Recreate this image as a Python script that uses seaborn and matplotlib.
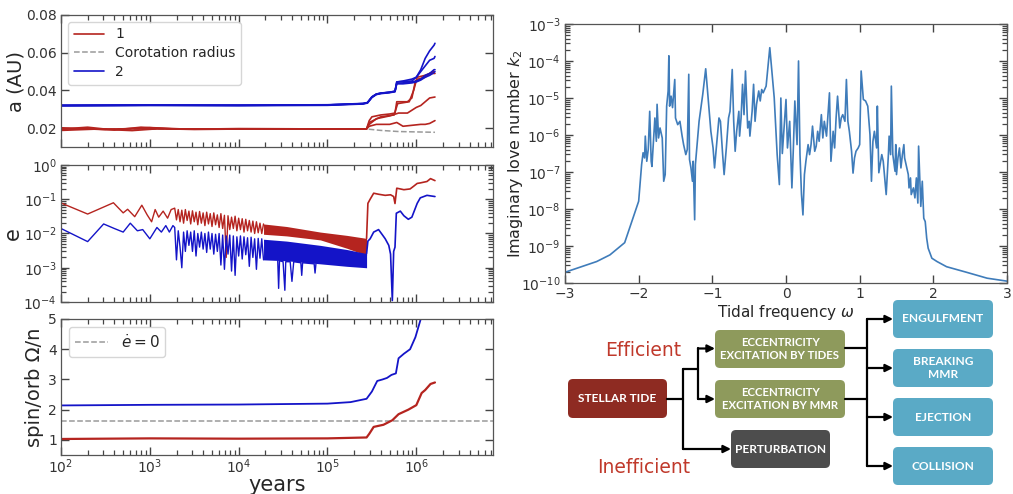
import numpy as np
import matplotlib.pyplot as plt
import seaborn as sns
from matplotlib.patches import FancyBboxPatch
from matplotlib.lines import Line2D
from matplotlib.ticker import LogLocator, NullFormatter


# ------------------ data : semi-major axis (log10 years, AU) ------------------
red_a1_t = [2.0, 2.3, 2.6, 2.9, 3.3, 4.0, 5.0, 5.44, 5.47, 5.5, 5.6, 5.7, 5.76, 5.78, 5.9, 5.95, 5.99, 6.02, 6.1, 6.15, 6.21]
red_a1 = [0.0195, 0.0205, 0.019, 0.0205, 0.0195, 0.0197, 0.0196, 0.0196, 0.024, 0.026, 0.027, 0.0275, 0.028, 0.034, 0.034, 0.036, 0.045, 0.046, 0.047, 0.049, 0.049]
red_a2_t = [2.0, 2.4, 2.8, 3.1, 3.5, 4.2, 5.0, 5.44, 5.47, 5.55, 5.7, 5.8, 5.9, 6.0, 6.05, 6.1, 6.15, 6.21]
red_a2 = [0.0188, 0.0195, 0.0187, 0.0197, 0.0193, 0.0196, 0.0195, 0.0196, 0.022, 0.025, 0.0265, 0.028, 0.028, 0.031, 0.032, 0.034, 0.036, 0.0365]
red_a3_t = [2.0, 2.5, 3.0, 3.4, 4.0, 5.0, 5.44, 5.47, 5.55, 5.7, 5.78, 5.85, 5.95, 6.05, 6.1, 6.15, 6.21]
red_a3 = [0.0202, 0.0192, 0.0203, 0.0195, 0.0197, 0.0196, 0.0196, 0.021, 0.022, 0.022, 0.023, 0.021, 0.0215, 0.022, 0.022, 0.0225, 0.024]
red_a4_t = [2.0, 3.0, 4.0, 5.0, 5.44, 5.47, 5.6, 5.75, 5.79, 5.92, 5.97, 6.01, 6.1, 6.2]
red_a4 = [0.0195, 0.0196, 0.0196, 0.0196, 0.0196, 0.023, 0.026, 0.027, 0.033, 0.034, 0.04, 0.047, 0.048, 0.05]

blue_a_t = [2.0, 3.0, 4.0, 5.0, 5.4, 5.45, 5.5, 5.55, 5.6, 5.7, 5.76, 5.78, 5.85, 5.95, 6.0, 6.05, 6.1, 6.15, 6.2, 6.21]
blue_a1 = [0.032, 0.0322, 0.0321, 0.0323, 0.033, 0.0335, 0.0365, 0.038, 0.0385, 0.039, 0.0395, 0.0445, 0.0447, 0.045, 0.047, 0.051, 0.057, 0.061, 0.064, 0.065]
blue_a2 = [0.032, 0.0322, 0.0321, 0.0323, 0.033, 0.0335, 0.0365, 0.038, 0.0385, 0.039, 0.0395, 0.0445, 0.045, 0.046, 0.047, 0.05, 0.053, 0.056, 0.057, 0.058]
blue_a3 = [0.0318, 0.032, 0.0319, 0.0321, 0.0328, 0.0333, 0.0362, 0.0378, 0.0383, 0.0388, 0.0393, 0.0438, 0.044, 0.0445, 0.045, 0.046, 0.048, 0.049, 0.051, 0.051]
blue_a4 = [0.0322, 0.0323, 0.0322, 0.0324, 0.0331, 0.0336, 0.0366, 0.0381, 0.0386, 0.0391, 0.0396, 0.0435, 0.0435, 0.044, 0.0445, 0.0455, 0.047, 0.048, 0.0495, 0.05]

corot_t = [2.0, 5.45, 5.6, 5.8, 6.0, 6.21]
corot_a = [0.0195, 0.0195, 0.0188, 0.0182, 0.018, 0.0178]

# ------------------ data : eccentricity ------------------
red_e_t = [2.0, 2.3, 2.59, 2.7, 2.75, 2.83, 2.91, 2.97, 3.02, 3.06, 3.1, 3.15, 3.2, 3.24,
           3.28, 3.30, 3.32, 3.34, 3.36, 3.38, 3.40, 3.42, 3.44, 3.46, 3.48, 3.50, 3.52, 3.54,
           3.56, 3.58, 3.60, 3.62, 3.64, 3.66, 3.68, 3.70, 3.72, 3.74, 3.76, 3.78, 3.80, 3.82,
           3.84, 3.86, 3.88, 3.90, 3.92, 3.94, 3.96, 3.98, 4.00, 4.02, 4.04, 4.06, 4.08, 4.10,
           4.12, 4.14, 4.16, 4.18, 4.20, 4.22, 4.24, 4.26, 4.28]
red_e = [0.078, 0.037, 0.079, 0.04, 0.051, 0.031, 0.067, 0.035, 0.022, 0.05, 0.03, 0.045, 0.028, 0.05,
         0.055, 0.025, 0.05, 0.022, 0.048, 0.02, 0.05, 0.024, 0.045, 0.019, 0.046, 0.022, 0.042, 0.018,
         0.044, 0.02, 0.04, 0.017, 0.042, 0.019, 0.038, 0.016, 0.04, 0.018, 0.035, 0.015, 0.038, 0.014,
         0.034, 0.002, 0.033, 0.013, 0.03, 0.014, 0.032, 0.012, 0.028, 0.013, 0.027, 0.011, 0.026, 0.012,
         0.024, 0.011, 0.023, 0.01, 0.022, 0.0105, 0.02, 0.01, 0.019]
red_band_t = [4.28, 4.54, 4.92, 5.22, 5.44]
red_band_hi = [0.019, 0.016, 0.011, 0.0088, 0.0072]
red_band_lo = [0.0095, 0.0085, 0.0065, 0.0037, 0.0023]
red_late_t = [5.44, 5.455, 5.48, 5.52, 5.575, 5.65, 5.71, 5.745, 5.76, 5.78, 5.82, 5.86, 5.93, 5.97, 6.01, 6.045, 6.12, 6.16, 6.21]
red_late_e = [0.0072, 0.076, 0.1, 0.15, 0.14, 0.13, 0.135, 0.12, 0.075, 0.21, 0.2, 0.19, 0.2, 0.24, 0.29, 0.3, 0.33, 0.4, 0.35]

blue_e_t = [2.0, 2.3, 2.48, 2.6, 2.7, 2.78, 2.86, 2.92, 3.0, 3.08, 3.13, 3.18, 3.22, 3.26, 3.28,
            3.30, 3.32, 3.34, 3.36, 3.38, 3.40, 3.42, 3.44, 3.46, 3.48, 3.50, 3.52, 3.54, 3.56,
            3.58, 3.60, 3.62, 3.64, 3.66, 3.68, 3.70, 3.72, 3.74, 3.76, 3.78, 3.80, 3.82, 3.84,
            3.86, 3.88, 3.90, 3.92, 3.94, 3.96, 3.98, 4.00, 4.02, 4.04, 4.06, 4.08, 4.10, 4.12,
            4.14, 4.16, 4.18, 4.20, 4.22, 4.24, 4.26, 4.28]
blue_e = [0.014, 0.0058, 0.019, 0.014, 0.011, 0.02, 0.012, 0.013, 0.007, 0.015, 0.011, 0.017, 0.011, 0.017, 0.015,
          0.0017, 0.012, 0.004, 0.001, 0.011, 0.003, 0.012, 0.0045, 0.011, 0.003, 0.012, 0.0022, 0.01, 0.004,
          0.011, 0.0035, 0.01, 0.0028, 0.011, 0.0035, 0.01, 0.0025, 0.0095, 0.003, 0.01, 0.0012, 0.009, 0.0009,
          0.0085, 0.0025, 0.009, 0.0008, 0.0085, 0.0006, 0.008, 0.0022, 0.0085, 0.0018, 0.008, 0.0024, 0.0075, 0.0011,
          0.0078, 0.002, 0.007, 0.0009, 0.0072, 0.0019, 0.007, 0.0017]
blue_band_t = [4.28, 4.54, 4.92, 5.22, 5.44]
blue_band_hi = [0.0068, 0.006, 0.0045, 0.0034, 0.0026]
blue_band_lo = [0.0017, 0.0016, 0.0013, 0.0011, 0.001]
blue_spike_t = [4.44, 4.45, 4.46, 4.5, 4.52, 4.53, 4.58, 4.6, 4.62, 4.7, 4.71, 4.72, 4.85, 4.86, 4.87]
blue_spike_e = [0.0016, 0.00025, 0.0016, 0.0015, 0.00022, 0.0015, 0.0015, 0.0004, 0.0015, 0.0014, 0.0006, 0.0014, 0.0013, 0.0007, 0.0013]
blue_late_t = [5.44, 5.455, 5.48, 5.52, 5.575, 5.62, 5.65, 5.69, 5.71, 5.73, 5.745, 5.76, 5.775, 5.82, 5.86, 5.91, 5.95, 6.01, 6.045, 6.12, 6.21]
blue_late_e = [0.0026, 0.006, 0.007, 0.011, 0.013, 0.009, 0.007, 0.0045, 0.0025, 0.00011, 0.003, 0.004, 0.039, 0.045, 0.033, 0.026, 0.03, 0.076, 0.11, 0.13, 0.12]

# ------------------ data : spin / orbit ------------------
spin_blue_t = [2.0, 3.0, 4.0, 5.0, 5.26, 5.44, 5.5, 5.56, 5.62, 5.67, 5.72, 5.77, 5.8, 5.86, 5.93, 5.99, 6.05, 6.08]
spin_blue = [2.14, 2.16, 2.17, 2.2, 2.25, 2.36, 2.6, 2.95, 3.0, 3.05, 3.15, 3.2, 3.7, 3.85, 4.0, 4.4, 5.0, 5.4]
spin_red_t = [2.0, 3.0, 4.0, 5.0, 5.44, 5.47, 5.52, 5.63, 5.73, 5.8, 5.91, 6.0, 6.06, 6.1, 6.16, 6.21]
spin_red = [1.03, 1.05, 1.04, 1.05, 1.08, 1.2, 1.43, 1.5, 1.65, 1.85, 2.0, 2.15, 2.55, 2.65, 2.85, 2.9]
edot_zero = 1.63

# ------------------ data : love number spectrum (omega, log10 Im k2) ------------------
omega = [-3.0, -2.57, -2.39, -2.19, -2.0, -1.96, -1.94, -1.92, -1.91, -1.89, -1.87, -1.85, -1.83, -1.82,
         -1.78, -1.76, -1.75, -1.73, -1.71, -1.68, -1.66, -1.64, -1.62, -1.6, -1.59, -1.58, -1.56, -1.54,
         -1.51, -1.5, -1.47, -1.44, -1.41, -1.39, -1.36, -1.34, -1.32, -1.31, -1.29, -1.27, -1.26, -1.24,
         -1.23, -1.18, -1.13, -1.09, -1.05, -1.02, -0.99, -0.97, -0.95, -0.91, -0.89, -0.86, -0.84, -0.81,
         -0.78, -0.76, -0.73, -0.71, -0.69, -0.67, -0.64, -0.63, -0.61, -0.59, -0.57, -0.55, -0.52, -0.5,
         -0.49, -0.46, -0.44, -0.42, -0.4, -0.37, -0.35, -0.33, -0.31, -0.27, -0.22, -0.16, -0.12, -0.09,
         -0.07, -0.05, -0.03, 0.0, 0.02, 0.05, 0.07, 0.08, 0.1, 0.12, 0.15, 0.17, 0.19, 0.21, 0.23, 0.25,
         0.27, 0.3, 0.32, 0.34, 0.36, 0.39, 0.41, 0.43, 0.45, 0.48, 0.5, 0.52, 0.55, 0.57, 0.59, 0.61,
         0.64, 0.66, 0.68, 0.7, 0.73, 0.75, 0.77, 0.8, 0.82, 0.84, 0.86, 0.89, 0.91, 0.93, 0.95, 0.98,
         1.0, 1.02, 1.05, 1.08, 1.11, 1.14, 1.16, 1.18, 1.2, 1.23, 1.24, 1.26, 1.3, 1.32, 1.34, 1.36,
         1.39, 1.4, 1.42, 1.43, 1.45, 1.48, 1.49, 1.5, 1.52, 1.54, 1.56, 1.58, 1.6, 1.61, 1.64, 1.66,
         1.67, 1.69, 1.7, 1.73, 1.75, 1.77, 1.79, 1.8, 1.83, 1.85, 1.87, 1.89, 1.91, 1.93, 1.98, 2.05,
         2.18, 2.45, 2.73, 3.0]
log_k2 = [-9.71, -9.42, -9.24, -8.91, -7.79, -6.8, -6.48, -6.62, -6.03, -6.71, -6.39, -5.36, -6.71, -6.85,
          -5.54, -6.17, -5.17, -6.08, -5.81, -6.08, -7.25, -7.07, -5.22, -4.81, -3.86, -5.22, -4.95, -5.26,
          -4.5, -5.54, -5.72, -5.63, -6.03, -6.26, -6.53, -6.39, -4.36, -6.66, -6.89, -7.25, -6.71, -8.29,
          -6.8, -5.63, -4.9, -4.21, -5.17, -5.9, -6.35, -6.89, -6.44, -5.54, -5.63, -6.53, -7.07, -6.35,
          -5.54, -5.36, -4.23, -5.63, -6.44, -5.9, -5.36, -6.03, -5.54, -4.63, -5.45, -4.27, -5.81, -5.63,
          -6.03, -5.36, -4.63, -5.63, -5.17, -4.81, -5.08, -4.77, -4.86, -4.68, -3.64, -4.99, -6.53, -7.34,
          -5.0, -6.5, -5.9, -5.04, -6.35, -5.63, -6.89, -7.43, -6.35, -5.08, -6.26, -4.0, -6.53, -7.6, -8.16, -7.07,
          -6.71, -6.26, -6.53, -6.26, -5.76, -6.44, -6.3, -5.9, -6.17, -5.45, -6.08, -5.63, -6.03, -5.45, -4.86, -6.71,
          -5.9, -6.35, -5.54, -4.95, -5.81, -5.54, -5.45, -5.63, -4.5, -5.63, -5.9, -6.44, -7.03, -6.62, -6.44, -6.35,
          -6.26, -4.27, -5.04, -5.08, -5.22, -5.99, -7.25, -6.17, -5.9, -6.35, -5.22, -7.02, -6.53, -6.71, -7.16, -7.61,
          -6.53, -6.03, -6.53, -4.68, -6.53, -6.98, -6.26, -7.07, -6.62, -6.35, -6.89, -6.53, -6.26, -6.62, -6.89, -7.07,
          -7.43, -7.16, -7.61, -7.43, -7.7, -7.16, -7.84, -6.3, -7.93, -7.25, -8.25, -8.34, -8.79, -9.06, -9.33, -9.42,
          -9.56, -9.71, -9.87, -9.95]

# ------------------ data : flow chart ------------------
source_label = 'STELLAR TIDE'
middle_labels = ['ECCENTRICITY\nEXCITATION BY TIDES', 'ECCENTRICITY\nEXCITATION BY MMR', 'PERTURBATION']
outcome_labels = ['ENGULFMENT', 'BREAKING\nMMR', 'EJECTION', 'COLLISION']

RED = '#b5241f'
BLUE = '#1414c8'
GREY = '#9a9a9a'
K2 = '#3f7cba'

sns.set_style('ticks')
plt.rcParams['font.family'] = ['DejaVu Sans']
plt.rcParams.update({
    'xtick.direction': 'in', 'ytick.direction': 'in',
    'xtick.top': True, 'ytick.right': True,
    'xtick.minor.top': True, 'ytick.minor.right': True,
    'xtick.minor.bottom': True, 'ytick.minor.left': True,
    'xtick.color': '#444444', 'ytick.color': '#444444',
    'xtick.labelcolor': '#333333', 'ytick.labelcolor': '#333333',
    'axes.edgecolor': '#555555', 'axes.linewidth': 0.9,
})


def draw(ax, logt, vals, color, lw=1.2, ls='-'):
    sns.lineplot(x=10 ** np.asarray(logt), y=vals, ax=ax, color=color, lw=lw,
                 linestyle=ls, estimator=None, sort=False, legend=False)


def log_minor(axis):
    axis.set_minor_locator(LogLocator(base=10, subs=np.arange(2, 10), numticks=100))
    axis.set_minor_formatter(NullFormatter())


def tick_look(ax):
    ax.tick_params(which='major', labelsize=10, length=6, width=1.0, pad=3,
                   direction='in', top=True, right=True)
    ax.tick_params(which='minor', length=3.5, width=0.9, direction='in',
                   top=True, right=True, bottom=True, left=True)


fig = plt.figure(figsize=(10.13, 4.94), dpi=100)
W, H = 1013, 494
ax1 = fig.add_axes([61 / W, 1 - 147 / H, 432 / W, 132 / H])
ax2 = fig.add_axes([61 / W, 1 - 302 / H, 432 / W, 137 / H])
ax3 = fig.add_axes([61 / W, 1 - 455 / H, 432 / W, 136 / H])
ax4 = fig.add_axes([565 / W, 1 - 283 / H, 442 / W, 259 / H])

#------------------ a panel ------------------
draw(ax1, corot_t, corot_a, GREY, lw=1.1, ls='--')
for t, v in [(red_a1_t, red_a1), (red_a2_t, red_a2), (red_a3_t, red_a3), (red_a4_t, red_a4)]:
    draw(ax1, t, v, RED)
for v in [blue_a1, blue_a2, blue_a3, blue_a4]:
    draw(ax1, blue_a_t, v, BLUE)
ax1.set_ylim(0.01, 0.08)
ax1.set_yticks([0.02, 0.04, 0.06, 0.08])
ax1.set_ylabel('a (AU)', fontsize=14)
ax1.yaxis.set_label_coords(-0.083, 0.5)
handles = [Line2D([], [], color=RED, lw=1.2), Line2D([], [], color=GREY, lw=1.1, ls='--'),
           Line2D([], [], color=BLUE, lw=1.2)]
ax1.legend(handles, ['1', 'Corotation radius', '2'], loc='upper left', fontsize=10,
           frameon=True, fancybox=True, borderpad=0.4, labelspacing=0.35, handlelength=2.2)

#------------------ e panel ------------------
draw(ax2, red_e_t, red_e, RED, lw=1.0)
ax2.fill_between(10 ** np.asarray(red_band_t), red_band_lo, red_band_hi, color=RED, lw=0)
draw(ax2, red_late_t, red_late_e, RED, lw=1.2)
draw(ax2, blue_e_t, blue_e, BLUE, lw=1.0)
ax2.fill_between(10 ** np.asarray(blue_band_t), blue_band_lo, blue_band_hi, color=BLUE, lw=0)
draw(ax2, blue_spike_t, blue_spike_e, BLUE, lw=1.0)
draw(ax2, blue_late_t, blue_late_e, BLUE, lw=1.2)
ax2.set_yscale('log')
ax2.set_ylim(1e-4, 1)
ax2.set_ylabel('e', fontsize=15)
ax2.yaxis.set_label_coords(-0.088, 0.5)

#------------------ spin panel ------------------
ax3.axhline(edot_zero, color=GREY, lw=1.1, ls='--')
draw(ax3, spin_blue_t, spin_blue, BLUE, lw=1.3)
draw(ax3, spin_red_t, spin_red, RED, lw=1.6)
ax3.set_ylim(0.5, 5)
ax3.set_yticks([1, 2, 3, 4, 5])
ax3.set_ylabel('spin/orb Ω/n', fontsize=14)
ax3.yaxis.set_label_coords(-0.04, 0.5)
ax3.set_xlabel('years', fontsize=15, labelpad=-1)
ax3.legend([Line2D([], [], color=GREY, lw=1.1, ls='--')], [r'$\dot{e}=0$'], loc='upper left',
           fontsize=11, frameon=True, handlelength=2.2)

for ax in (ax1, ax2, ax3):
    ax.set_xscale('log')
    ax.set_xlim(1e2, 7.3e6)
    log_minor(ax.xaxis)
    tick_look(ax)
log_minor(ax2.yaxis)
for ax in (ax1, ax2):
    ax.tick_params(axis='x', which='both', labelbottom=False)
ax3.tick_params(axis='x', pad=2)

#------------------ love number spectrum ------------------
sns.lineplot(x=omega, y=10 ** np.asarray(log_k2), ax=ax4, color=K2, lw=1.2,
             estimator=None, sort=False, legend=False)
ax4.set_yscale('log')
ax4.set_xlim(-3, 3)
ax4.set_ylim(1e-10, 1e-3)
log_minor(ax4.yaxis)
ax4.set_xticks([-3, -2, -1, 0, 1, 2, 3])
tick_look(ax4)
ax4.set_ylabel('Imaginary love number $k_2$', fontsize=11.5)
ax4.yaxis.set_label_coords(-0.09, 0.5)
ax4.set_xlabel(r'Tidal frequency $\omega$', fontsize=11, labelpad=1)

#------------------ flow chart ------------------
fl = fig.add_axes([500 / W, 0, 513 / W, 200 / H])
fl.set_xlim(500, 1013)
fl.set_ylim(494, 294)
fl.set_axis_off()


def box(x0, y0, x1, y1, color, text, size=8.2):
    fl.add_patch(FancyBboxPatch((x0, y0), x1 - x0, y1 - y0, boxstyle='round,pad=0,rounding_size=5',
                                fc=color, ec='none'))
    fl.text((x0 + x1) / 2, (y0 + y1) / 2, text, color='white', ha='center', va='center',
            fontsize=size, fontweight='bold', family=['Lato', 'DejaVu Sans'], linespacing=1.25)


def arrow(x0, x1, y):
    fl.annotate('', xy=(x1, y), xytext=(x0, y),
                arrowprops=dict(arrowstyle='-|>', color='black', lw=1.6, mutation_scale=11,
                                shrinkA=0, shrinkB=0))


box(568, 379, 667, 418, '#8e2b22', source_label, 8.6)
box(715, 330, 845, 368, '#8e9a5c', middle_labels[0])
box(715, 380, 845, 418, '#8e9a5c', middle_labels[1])
box(731, 430, 830, 468, '#4d4d4d', middle_labels[2], 8.6)
for yt, lab in zip([300, 349, 398, 447], outcome_labels):
    box(893, yt, 993, yt + 38, '#5aaac6', lab, 8.6)

fl.plot([667, 683], [398.5, 398.5], color='black', lw=1.6)
fl.plot([683, 683], [369, 449], color='black', lw=1.6)
fl.plot([683, 698], [369, 369], color='black', lw=1.6)
fl.plot([698, 698], [348, 399], color='black', lw=1.6)
arrow(698, 715, 348.5)
arrow(698, 715, 399)
arrow(683, 731, 449)
fl.plot([845, 867], [348.5, 348.5], color='black', lw=1.6)
fl.plot([845, 867], [399, 399], color='black', lw=1.6)
fl.plot([867, 867], [319, 466], color='black', lw=1.6)
for yt in [319, 368, 417, 466]:
    arrow(867, 893, yt)

fl.text(643, 351, 'Efficient', color='#c0392b', fontsize=13.5, ha='center', va='center')
fl.text(644, 467, 'Inefficient', color='#c0392b', fontsize=13.5, ha='center', va='center')

plt.savefig('out.png', dpi=100)
